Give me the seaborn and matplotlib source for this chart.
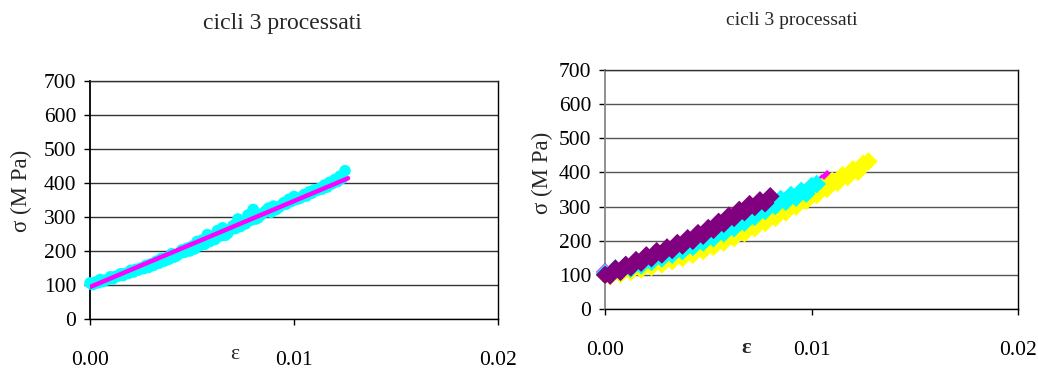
import numpy as np
import pandas as pd
import matplotlib
matplotlib.use("Agg")
import matplotlib.pyplot as plt
import seaborn as sns

# ---------------- data ----------------
strain_grid = [0.0, 0.00025, 0.0005, 0.00075, 0.001, 0.00125, 0.0015, 0.00175,
               0.002, 0.00225, 0.0025, 0.00275, 0.003, 0.00325, 0.0035, 0.00375,
               0.004, 0.00425, 0.0045, 0.00475, 0.005, 0.00525, 0.0055, 0.00575,
               0.006, 0.00625, 0.0065, 0.00675, 0.007, 0.00725, 0.0075, 0.00775,
               0.008, 0.00825, 0.0085, 0.00875, 0.009, 0.00925, 0.0095, 0.00975,
               0.01, 0.01025, 0.0105, 0.01075, 0.011, 0.01125, 0.0115, 0.01175,
               0.012, 0.01225, 0.0125, 0.01275]
strain_grid_b = [0.000125, 0.000375, 0.000625, 0.000875, 0.001125, 0.001375,
                 0.001625, 0.001875, 0.002125, 0.002375, 0.002625, 0.002875,
                 0.003125, 0.003375, 0.003625, 0.003875, 0.004125, 0.004375,
                 0.004625, 0.004875, 0.005125, 0.005375, 0.005625, 0.005875,
                 0.006125, 0.006375, 0.006625, 0.006875, 0.007125, 0.007375,
                 0.007625, 0.007875, 0.008125, 0.008375, 0.008625, 0.008875,
                 0.009125, 0.009375, 0.009625, 0.009875, 0.010125, 0.010375,
                 0.010625, 0.010875, 0.011125, 0.011375, 0.011625, 0.011875,
                 0.012125, 0.012375]

# left panel: processed cycle points (two passes) and linear fit
left_stress = [106, 108, 116, 114, 124, 125, 133, 134, 143, 146, 150, 158,
               162, 170, 178, 180, 192, 186, 203, 208, 214, 228, 232, 248,
               240, 260, 268, 252, 274, 294, 284, 306, 322, 298, 312, 326,
               332, 328, 342, 352, 360, 354, 366, 374, 380, 384, 394, 402,
               410, 420, 436]
left_stress_b = [101, 106, 110, 116, 118, 126, 128, 134, 138, 144, 148, 152,
                 158, 164, 170, 176, 182, 192, 196, 200, 206, 216, 220, 228,
                 234, 244, 246, 262, 266, 272, 280, 290, 294, 306, 318, 314,
                 322, 334, 338, 346, 352, 358, 362, 370, 378, 382, 388, 398,
                 404, 414]
fit_strain = [0.0, 0.01265]
fit_stress = [94, 414]

# right panel: four cycles
magenta_stress = [108, 101, 117, 107, 124, 115, 133, 124, 141, 132, 150, 141,
                  159, 151, 169, 161, 180, 172, 191, 184, 203, 196, 217, 210,
                  230, 224, 245, 239, 260, 255, 276, 271, 293, 286, 307, 300,
                  321, 315, 336, 330, 351, 345, 368, 380]
cyan_stress = [105, 102, 119, 109, 127, 118, 137, 128, 147, 138, 157, 148,
               167, 159, 178, 170, 190, 182, 202, 195, 215, 208, 229, 222,
               243, 237, 259, 253, 275, 270, 292, 287, 310, 302, 322, 314,
               334, 326, 346, 338, 360, 366]
yellow_stress = [100, 96, 113, 102, 119, 109, 126, 116, 133, 123, 141, 131,
                 149, 140, 158, 149, 167, 159, 178, 170, 189, 182, 202, 195,
                 215, 208, 229, 222, 243, 237, 258, 252, 273, 267, 289, 283,
                 305, 300, 322, 317, 339, 334, 357, 352, 375, 370, 392, 387,
                 409, 402, 425, 432]
purple_stress = [100, 98, 118, 109, 129, 122, 143, 136, 157, 149, 169, 160,
                 180, 173, 193, 186, 207, 200, 222, 215, 237, 232, 255, 250,
                 273, 267, 290, 284, 307, 299, 318, 310, 330]

title_text = "cicli 3 processati"
ylabel_text = "σ (M Pa)"
xlabel_text = "ε"
xtick_vals = [0.0, 0.01, 0.02]
xtick_labels = ["0.00", "0.01", "0.02"]
ytick_vals = [0, 100, 200, 300, 400, 500, 600, 700]

# ---------------- style ----------------
sns.set_theme(style="white")
plt.rcParams["font.family"] = ["Liberation Serif", "DejaVu Serif"]

fig = plt.figure(figsize=(10.38, 3.72), dpi=100)
axL = fig.add_axes([0.0867, 0.1425, 0.3931, 0.6398])
axR = fig.add_axes([0.5829, 0.1694, 0.3979, 0.6424])


def style_axis(ax, grid_color, left_color):
    ax.set_xlim(0, 0.02)
    ax.set_ylim(0, 700)
    ax.set_xticks(xtick_vals)
    ax.set_xticklabels(xtick_labels)
    ax.set_yticks(ytick_vals)
    ax.tick_params(axis="both", which="major", direction="out", length=4,
                   width=1, color="black", labelsize=15.5, labelcolor="black")
    ax.tick_params(axis="x", pad=19)
    ax.tick_params(axis="y", pad=6)
    ax.tick_params(left=True, bottom=True)
    ax.yaxis.grid(True, color=grid_color, lw=1)
    ax.xaxis.grid(False)
    ax.set_axisbelow(True)
    for s in ["top", "right", "bottom"]:
        ax.spines[s].set_visible(True)
        ax.spines[s].set_color("black")
        ax.spines[s].set_linewidth(1)
    ax.spines["top"].set_color("#333333")
    ax.spines["left"].set_color(left_color)
    ax.spines["left"].set_linewidth(1.3)


# ---- left panel ----
dfL = pd.DataFrame({"strain": strain_grid[:len(left_stress)] + strain_grid_b,
                    "stress": left_stress + left_stress_b})
sns.scatterplot(data=dfL, x="strain", y="stress", ax=axL, color="#00ffff",
                marker="o", s=70, edgecolor="none", linewidth=0, clip_on=False,
                zorder=3)
dfFit = pd.DataFrame({"strain": fit_strain, "stress": fit_stress})
sns.lineplot(data=dfFit, x="strain", y="stress", ax=axL, color="#ff00ff",
             lw=3.2, zorder=4)
style_axis(axL, "#333333", "black")
axL.set_xlabel(xlabel_text, fontsize=15.5, va="center")
axL.xaxis.set_label_coords(0.355, -0.151)
axL.set_ylabel(ylabel_text, fontsize=16.5, va="center")
axL.yaxis.set_label_coords(-0.168, 0.54)
fig.text(0.272, 0.938, title_text, fontsize=17, ha="center", va="center")

# ---- right panel ----
series = [(magenta_stress, "#ff00ff"), (yellow_stress, "#ffff00"),
          (cyan_stress, "#00ffff"), (purple_stress, "#800080")]
for k, (vals, col) in enumerate(series):
    dfR = pd.DataFrame({"strain": strain_grid[:len(vals)], "stress": vals})
    sns.scatterplot(data=dfR, x="strain", y="stress", ax=axR, color=col,
                    marker="D", s=90, edgecolor="none", linewidth=0,
                    clip_on=False, zorder=3 + k)
style_axis(axR, "#555555", "#888888")
axR.set_xlabel(xlabel_text, fontsize=16, fontweight="bold", va="center")
axR.xaxis.set_label_coords(0.341, -0.163)
axR.set_ylabel(ylabel_text, fontsize=16.5, va="center")
axR.yaxis.set_label_coords(-0.152, 0.57)
fig.text(0.763, 0.946, title_text, fontsize=14, ha="center", va="center")

fig.savefig("out.png", dpi=100)
